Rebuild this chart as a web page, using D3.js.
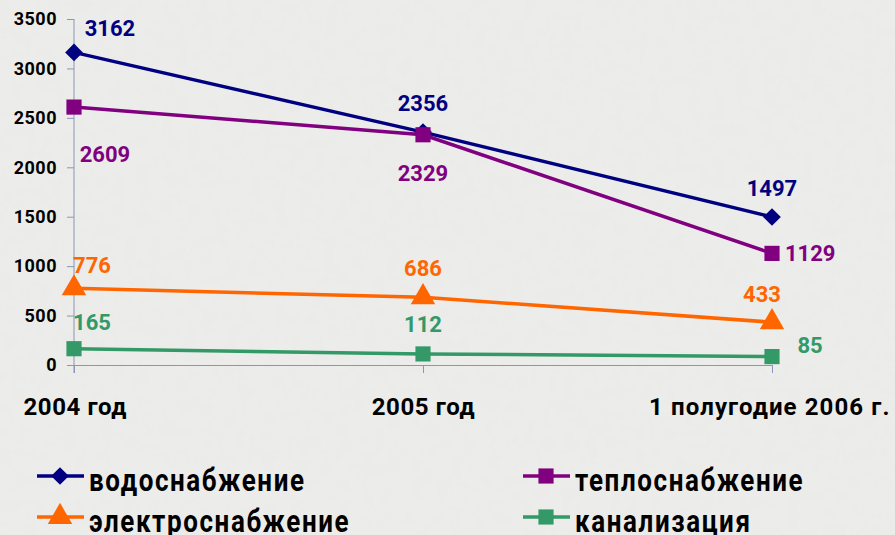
<!DOCTYPE html>
<html>
<head>
<meta charset="utf-8">
<script src="https://cdn.jsdelivr.net/npm/d3@7"></script>
<style>
  body { margin: 0; background: #e9e9e7; }
  svg { display: block; }
</style>
</head>
<body>
<div id="graph"></div>
<script>
// categories and values
var categories = ["2004 год", "2005 год", "1 полугодие 2006 г."];
var seriesNames = ["водоснабжение", "теплоснабжение", "электроснабжение", "канализация"];
var water = [3162, 2356, 1497];
var heat = [2609, 2329, 1129];
var power = [776, 686, 433];
var sewer = [165, 112, 85];
var yTicks = [0, 500, 1000, 1500, 2000, 2500, 3000, 3500];

var colors = ["#000080", "#800080", "#ff6600", "#339966"];
var symbols = [d3.symbolDiamond2, d3.symbolSquare, d3.symbolTriangle, d3.symbolSquare];
var symSize = [200, 230, 260, 230];
var values = [water, heat, power, sewer];

// label offsets per series and point [dx, dy, anchor]
var labelPos = [
  [[36, -24, "middle"], [0, -29, "middle"], [0, -29, "middle"]],
  [[31, 47, "middle"], [0, 39, "middle"], [13, 0, "start"]],
  [[18, -23, "middle"], [0, -29, "middle"], [-10, -28, "middle"]],
  [[18, -26, "middle"], [0, -30, "middle"], [38, -11, "middle"]]
];

var W = 895, H = 535;
var svg = d3.select("#graph").append("svg")
    .attr("width", W).attr("height", H);

// textured marble-ish background
var defs = svg.append("defs");
var f = defs.append("filter").attr("id", "tex")
    .attr("x", 0).attr("y", 0).attr("width", "100%").attr("height", "100%");
f.append("feTurbulence").attr("type", "fractalNoise")
    .attr("baseFrequency", "0.08").attr("numOctaves", 3).attr("seed", 4);
f.append("feColorMatrix").attr("type", "matrix")
    .attr("values", "0 0 0 0 0.85  0 0 0 0 0.85  0 0 0 0 0.84  0 0 0 0.45 0");
svg.append("rect").attr("width", W).attr("height", H).attr("fill", "#ebebe9");
svg.append("rect").attr("width", W).attr("height", H).attr("filter", "url(#tex)");

var x = d3.scalePoint().domain(categories).range([74, 772]);
var y = d3.scaleLinear().domain([0, 3500]).range([365, 19]);

// y axis
var yAxis = svg.append("g")
    .attr("transform", "translate(74,0)")
    .call(d3.axisLeft(y).tickValues(yTicks).tickSize(7).tickPadding(10).tickFormat(d3.format("d")));
yAxis.select(".domain").attr("stroke", "#8a96b4").attr("d", "M0,19V373");
yAxis.selectAll(".tick line").attr("stroke", "#8a96b4");
yAxis.selectAll("text")
    .attr("fill", "#000").attr("font-family", "Roboto, sans-serif")
    .attr("font-weight", "bold").attr("font-size", 18)
    .style("letter-spacing", "0.5px");

// x axis
var xAxis = svg.append("g")
    .attr("transform", "translate(0,365)")
    .call(d3.axisBottom(x).tickSize(8).tickSizeOuter(0));
xAxis.select(".domain").attr("stroke", "#8a96b4");
xAxis.selectAll(".tick line").attr("stroke", "#8a96b4");
xAxis.selectAll("text")
    .attr("y", 50).attr("dy", 0)
    .attr("fill", "#000").attr("font-family", "Roboto, sans-serif")
    .attr("font-weight", "bold").attr("font-size", 24)
    .attr("text-anchor", function(d, i) { return i === 0 ? "start" : (i === 2 ? "end" : "middle"); })
    .attr("dx", function(d, i) { return i === 0 ? -51 : (i === 2 ? 118 : 0); })
    .style("letter-spacing", function(d, i) { return i === 2 ? "1.1px" : "0.6px"; });

var line = d3.line()
    .x(function(d, i) { return x(categories[i]); })
    .y(function(d) { return y(d); });

// lines, markers, labels
values.forEach(function(vals, s) {
  svg.append("path")
    .datum(vals)
    .attr("fill", "none")
    .attr("stroke", colors[s])
    .attr("stroke-width", 3.5)
    .attr("d", line);

  svg.selectAll(".m" + s).data(vals).enter().append("path")
    .attr("transform", function(d, i) { return "translate(" + x(categories[i]) + "," + y(d) + ")"; })
    .attr("d", d3.symbol().type(symbols[s]).size(symSize[s]))
    .attr("fill", colors[s]);

  svg.selectAll(".l" + s).data(vals).enter().append("text")
    .attr("x", function(d, i) { return x(categories[i]) + labelPos[s][i][0]; })
    .attr("y", function(d, i) { return y(d) + labelPos[s][i][1]; })
    .attr("dy", "0.35em")
    .attr("text-anchor", function(d, i) { return labelPos[s][i][2]; })
    .attr("font-family", "Roboto, sans-serif")
    .attr("font-weight", "bold")
    .attr("font-size", 22)
    .attr("fill", colors[s])
    .text(function(d) { return d; });
});

// legend (text looks vertically stretched in the original)
var legPos = [[37, 476], [523, 476], [37, 517], [523, 517]];
seriesNames.forEach(function(name, s) {
  var g = svg.append("g").attr("transform", "translate(" + legPos[s][0] + "," + legPos[s][1] + ")");
  g.append("line").attr("x1", 0).attr("x2", 47).attr("stroke", colors[s]).attr("stroke-width", 3.5);
  g.append("path").attr("transform", "translate(23,0)")
    .attr("d", d3.symbol().type(symbols[s]).size(symSize[s]))
    .attr("fill", colors[s]);
  g.append("text")
    .attr("transform", "translate(52,15) scale(1,1.18)")
    .attr("font-family", "Roboto, sans-serif")
    .attr("font-weight", "bold")
    .attr("font-size", 26)
    .attr("fill", "#000")
    .style("letter-spacing", "1.6px")
    .text(name);
});
</script>
</body>
</html>
